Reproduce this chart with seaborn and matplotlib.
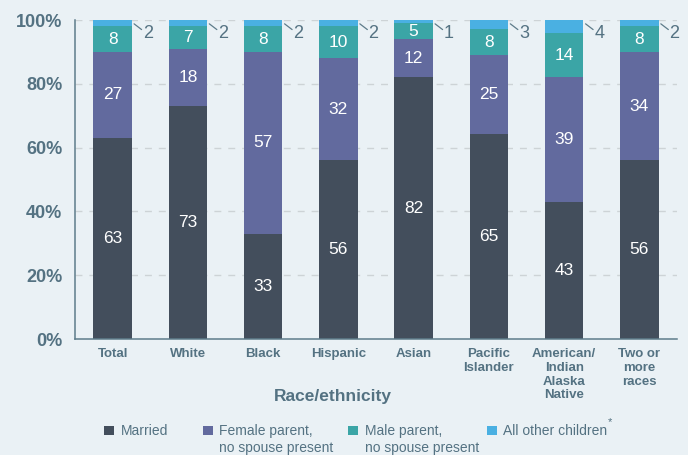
import matplotlib
matplotlib.use("Agg")
import matplotlib.pyplot as plt
import seaborn as sns
import numpy as np
import pandas as pd
from matplotlib.patches import Rectangle

# ---- data ----
categories = ["Total", "White", "Black", "Hispanic", "Asian",
              "Pacific\nIslander", "American/\nIndian\nAlaska\nNative",
              "Two or\nmore\nraces"]
married = [63, 73, 33, 56, 82, 65, 43, 56]
female = [27, 18, 57, 32, 12, 25, 39, 34]
male = [8, 7, 8, 10, 5, 8, 14, 8]
other = [2, 2, 2, 2, 1, 3, 4, 2]
series_names = ["Married", "Female parent,\nno spouse present",
                "Male parent,\nno spouse present", "All other children"]
yticks = [0, 20, 40, 60, 80, 100]
ytick_labels = ["0%", "20%", "40%", "60%", "80%", "100%"]

colors = ["#434E5C", "#626A9E", "#3BA5A6", "#4AB0E2"]
BG = "#EAF1F5"
TEXT = "#547282"
AXC = "#5E7C8A"

sns.set_style("white")
NARROW = ["Liberation Sans Narrow", "Liberation Sans", "DejaVu Sans"]
plt.rcParams["font.family"] = ["Liberation Sans", "DejaVu Sans"]

W, H = 688, 455
fig = plt.figure(figsize=(W / 100, H / 100), dpi=100, facecolor=BG)
ax = fig.add_axes([75 / W, 1 - 339 / H, (677 - 75) / W, (339 - 20) / H])
ax.set_facecolor(BG)

layers = np.array([married, female, male, other], dtype=float)
# 100% stacked: normalise each column to its total (rounded shares)
shares = layers / layers.sum(axis=0) * 100
cums = np.cumsum(shares, axis=0)

# draw from top layer down so each shorter cumulative bar overlays
for k in range(3, -1, -1):
    df = pd.DataFrame({"cat": categories, "val": cums[k]})
    sns.barplot(data=df, x="cat", y="val", color=colors[k], width=0.51,
                saturation=1, errorbar=None, ax=ax, zorder=2,
                clip_on=False, linewidth=0)

# value labels
for i in range(len(categories)):
    base = 0
    for k in range(3):
        v = shares[k][i]
        ax.text(i, base + v / 2, str(int(layers[k][i])), ha="center",
                va="center", color="white", fontsize=12.5, family=NARROW,
                zorder=5)
        base += v
    ax.plot([i + 0.285, i + 0.385], [98.8, 97.0], color=AXC, lw=0.9,
            clip_on=False, zorder=5)
    ax.text(i + 0.40, 95.8, str(other[i]), ha="left", va="center",
            color=TEXT, fontsize=13, family=NARROW, zorder=5)

# axes styling
ax.set_ylim(0, 100)
ax.set_xlim(-0.5, len(categories) - 0.5)
ax.set_yticks(yticks)
ax.set_yticklabels(ytick_labels, fontsize=13, fontweight="bold", color=TEXT)
for y in yticks[1:]:
    ax.axhline(y, color="#CDD3D6", lw=1, ls=(0, (5, 5)), zorder=1)

ax.set_xticks(range(len(categories)))
ax.set_xticklabels(categories, fontsize=9.5, fontweight="bold", color=TEXT,
                   family=NARROW, linespacing=1.2)
ax.set_xticks(np.arange(-0.5, len(categories)), minor=True)
ax.tick_params(axis="x", which="major", length=0, pad=6.5)
ax.tick_params(axis="x", which="minor", length=4, width=1.1, color=AXC,
               direction="out")
ax.tick_params(axis="y", length=4.5, width=1.1, color=AXC, pad=4.5,
               direction="out")

for s in ["top", "right"]:
    ax.spines[s].set_visible(False)
for s in ["left", "bottom"]:
    ax.spines[s].set_color(AXC)
    ax.spines[s].set_linewidth(1.1)

ax.set_ylabel("")
ax.set_xlabel("Race/ethnicity", fontsize=12.5, fontweight="bold",
              family=NARROW, color=TEXT)
ax.xaxis.set_label_coords((333 - 75) / (677 - 75), -0.158)

# legend (manual, below)
sq_x = [104, 203, 348, 487]
tx_x = [121, 219, 365, 503]
last = None
for k in range(4):
    fig.patches.append(Rectangle((sq_x[k] / W, 1 - 435 / H), 9.5 / W, 9.5 / H,
                                 transform=fig.transFigure,
                                 facecolor=colors[k], edgecolor="none"))
    last = fig.text(tx_x[k] / W, 1 - 424 / H, series_names[k], ha="left",
                    va="top", fontsize=10, family=NARROW, color=TEXT,
                    linespacing=1.25)

fig.canvas.draw()
bb = last.get_window_extent(renderer=fig.canvas.get_renderer())
fig.text(bb.x1 / W + 1 / W, 1 - 417 / H, "*", ha="left", va="top",
         fontsize=8, family=NARROW, color=TEXT)

fig.savefig("out.png", dpi=100, facecolor=BG)
